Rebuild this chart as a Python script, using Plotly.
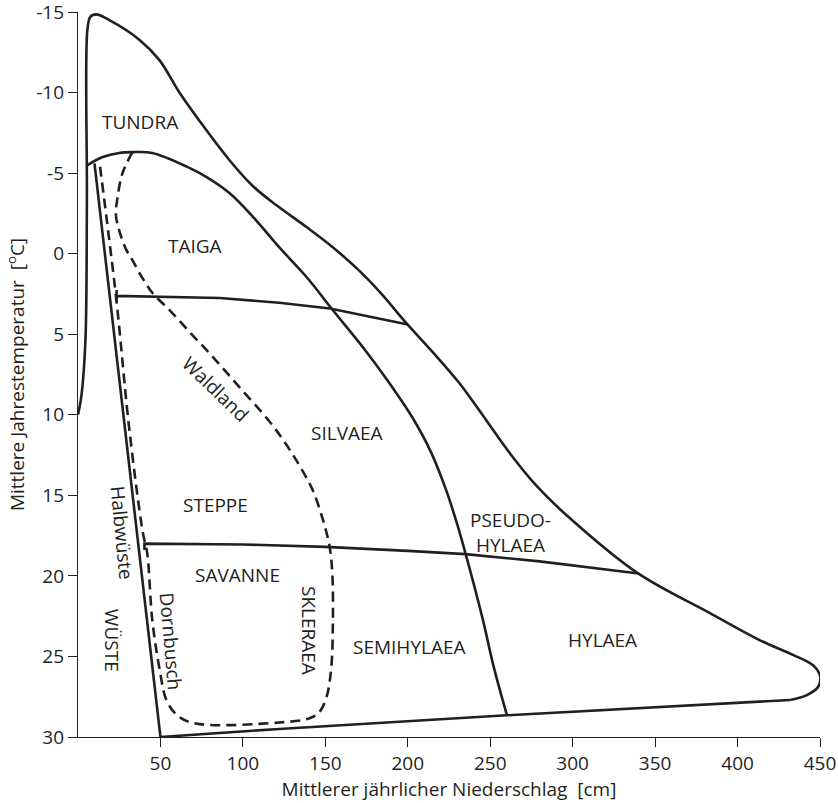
import plotly.graph_objects as go

# ---- data (precipitation cm, temperature °C) ----
outer_x = [0, 2.1, 4.5, 5.4, 5.7, 7.5, 11, 19, 37, 49.5, 61.5, 74, 91.9, 106, 120.4, 138.6, 154.5, 171, 185, 199,
           215, 231, 248, 262, 278, 297, 339, 383, 413.6, 433.6, 445.8, 450, 448.8, 442, 432]
outer_y = [10, 8.8, 5.4, -3.3, -13.9, -14.7, -14.85, -14.5, -13.3, -12.0, -10.0, -8.2, -5.8, -4.2, -3.0, -1.65,
           -0.4, 1.1, 2.6, 4.3, 6.1, 8.0, 10.4, 12.4, 14.4, 16.3, 19.8, 22.3, 24.0, 24.9, 25.55, 26.2, 26.9, 27.4, 27.7]

bottom_x = [432, 292, 260, 122, 50]
bottom_y = [27.7, 28.5, 28.65, 29.5, 30]

wueste_x = [10, 50]
wueste_y = [-5.6, 30]

main_x = [5.7, 15, 25, 33, 45, 66, 78, 92, 106, 122, 138.6, 154.5, 175, 190, 203, 214, 223, 230, 235, 245.5, 252, 260]
main_y = [-5.5, -6.0, -6.25, -6.3, -6.25, -5.4, -4.75, -3.75, -2.3, -0.4, 1.45, 3.5, 6.1, 8.2, 10.2, 12.3, 14.6,
          16.8, 18.6, 22.7, 25.6, 28.6]

taiga_x = [23.4, 23.4, 23.4, 86, 122, 152.8, 175, 200]
taiga_y = [2.25, 2.95, 2.62, 2.75, 3.05, 3.4, 3.85, 4.4]

savanne_x = [40.3, 40.3, 100, 150, 200, 235, 280, 340]
savanne_y = [18.4, 18.0, 18.05, 18.2, 18.45, 18.65, 19.1, 19.85]

dashed_x = [33, 27, 24, 23, 25.1, 29, 33, 39, 45.2, 55.5, 68, 81.7, 98, 116, 126, 134, 142, 148.5, 152.6, 154.2,
            154.6, 153.5, 150.5, 146, 140, 122, 74, 62, 54, 49.5, 45, 42, 39.3, 31, 23.3, 13]
dashed_y = [-6.3, -5.0, -3.5, -2.4, -1.4, -0.3, 0.4, 1.5, 2.44, 3.5, 4.9, 6.4, 8.3, 10.4, 11.8, 13.1, 14.6, 16.5,
            18.2, 19.8, 22.7, 25.8, 27.6, 28.5, 28.85, 29.1, 29.2, 28.8, 27.8, 25.8, 22.7, 18.6, 17.3, 10.8, 2.9, -5.7]

labels = ["TUNDRA", "TAIGA", "Waldland", "SILVAEA", "STEPPE", "SAVANNE", "Halbwüste", "WÜSTE", "Dornbusch",
          "SKLERAEA", "SEMIHYLAEA", "PSEUDO-<br>HYLAEA", "HYLAEA"]
label_x = [37.3, 70.7, 83.4, 163, 83.5, 96.5, 26.4, 20.3, 56.2, 140.5, 201.2, 262, 318.3]
label_y = [-8.2, -0.5, 8.4, 11.1, 15.6, 19.95, 17.3, 24.0, 24.05, 23.4, 24.4, 17.3, 24.0]
label_angle = [0, 0, 44, 0, 0, 0, 84.5, 90, 85, 90, 0, 0, 0]

x_ticks = [50, 100, 150, 200, 250, 300, 350, 400, 450]
y_ticks = [-15, -10, -5, 0, 5, 10, 15, 20, 25, 30]

INK = "#231f20"
FONT = "Open Sans"
LW = 2.6

fig = go.Figure()

def add_line(x, y, shape="spline", dash="solid"):
    fig.add_trace(go.Scatter(x=x, y=y, mode="lines", showlegend=False, hoverinfo="skip",
                             line=dict(color=INK, width=LW, shape=shape, dash=dash, smoothing=1.0)))

add_line(outer_x, outer_y)
add_line(bottom_x, bottom_y, shape="linear")
add_line(wueste_x, wueste_y, shape="linear")
add_line(main_x, main_y)
add_line(taiga_x, taiga_y, shape="linear")
add_line(savanne_x, savanne_y, shape="linear")
add_line(dashed_x, dashed_y, dash="10px,6px")

for t, x, y, a in zip(labels, label_x, label_y, label_angle):
    fig.add_annotation(x=x, y=y, xref="x", yref="y", text=t, showarrow=False, textangle=a,
                       font=dict(family=FONT, size=19, color=INK), align="center")

axis_common = dict(showline=True, linecolor=INK, linewidth=1.3, ticks="outside", ticklen=9, tickwidth=1.3,
                   tickcolor=INK, showgrid=False, zeroline=False, ticklabeloverflow="allow",
                   tickfont=dict(family=FONT, size=19, color=INK))

fig.update_xaxes(range=[0, 450], tickvals=x_ticks, ticktext=[str(v) for v in x_ticks],
                 title=dict(text="Mittlerer jährlicher Niederschlag\u00a0\u00a0[cm]",
                            font=dict(family=FONT, size=19, color=INK), standoff=6),
                 **axis_common)
fig.update_yaxes(range=[30, -15], tickvals=y_ticks, ticktext=[str(v) for v in y_ticks],
                 title=dict(text="Mittlere Jahrestemperatur\u00a0\u00a0[<sup>o</sup>C]",
                            font=dict(family=FONT, size=19, color=INK), standoff=6),
                 **axis_common)

fig.update_layout(width=838, height=803, margin=dict(l=78, r=18, t=12, b=66, autoexpand=False),
                  plot_bgcolor="white", paper_bgcolor="white", font=dict(family=FONT, color=INK))

fig.write_html("out.html", config={"displayModeBar": False},
               post_script="document.body.style.margin='0';document.body.style.overflow='hidden';")
